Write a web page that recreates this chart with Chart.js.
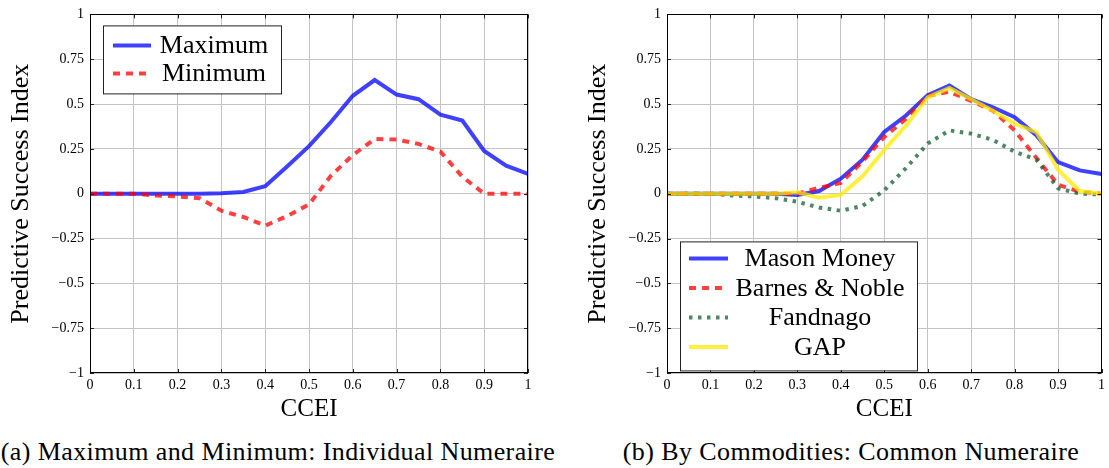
<!DOCTYPE html>
<html>
<head>
<meta charset="utf-8">
<script src="https://cdn.jsdelivr.net/npm/chart.js@4"></script>
<style>
body { margin: 0; background: #fff; width: 1109px; height: 468px; position: relative; overflow: hidden; font-family: "Liberation Serif", serif; }
.caja { position: absolute; top: 0; height: 425px; }
.pie { position: absolute; top: 437px; font-size: 26px; letter-spacing: 0.4px; text-align: center; white-space: nowrap; color: #000; }
</style>
</head>
<body>
<div class="caja" style="left:0;width:545px"><canvas id="ChartA"></canvas></div>
<div class="caja" style="left:577px;width:532px"><canvas id="ChartB"></canvas></div>
<div class="pie" style="left:0;width:556px">(a) Maximum and Minimum: Individual Numeraire</div>
<div class="pie" style="left:600px;width:502px">(b) By Commodities: Common Numeraire</div>
<script>
// valores (CCEI cada 0.05)
const ccei = [0, 0.05, 0.1, 0.15, 0.2, 0.25, 0.3, 0.35, 0.4, 0.45, 0.5, 0.55, 0.6, 0.65, 0.7, 0.75, 0.8, 0.85, 0.9, 0.95, 1]
const maximo = [0, 0, 0, 0, 0, 0, 0.003, 0.01, 0.042, 0.152, 0.265, 0.40, 0.546, 0.634, 0.553, 0.527, 0.441, 0.408, 0.238, 0.156, 0.11]
const minimo = [0, 0, 0, -0.01, -0.015, -0.025, -0.095, -0.13, -0.178, -0.125, -0.06, 0.1, 0.215, 0.305, 0.302, 0.278, 0.235, 0.095, 0, 0, 0]
const masonMoney = [0, 0, 0, 0, 0, 0, -0.007, 0.015, 0.084, 0.19, 0.344, 0.436, 0.55, 0.604, 0.527, 0.482, 0.427, 0.326, 0.176, 0.13, 0.11]
const barnesNoble = [0, 0, 0, 0, 0, 0, 0, 0.033, 0.06, 0.18, 0.317, 0.418, 0.546, 0.568, 0.518, 0.463, 0.353, 0.2, 0.05, 0.01, 0]
const fandnago = [0, 0, 0, -0.01, -0.015, -0.025, -0.045, -0.077, -0.095, -0.068, 0.018, 0.143, 0.28, 0.353, 0.335, 0.3, 0.234, 0.19, 0.03, 0, -0.005]
const gap = [0, 0, 0, 0, 0, 0, 0.008, -0.022, -0.007, 0.097, 0.244, 0.38, 0.537, 0.59, 0.527, 0.463, 0.39, 0.344, 0.134, 0.015, 0]

const ticksY = [-1, -0.75, -0.5, -0.25, 0, 0.25, 0.5, 0.75, 1]

Chart.defaults.font.family = "'Liberation Serif', serif"
Chart.defaults.color = '#000'

const puntos = (valores) => ccei.map((x, i) => ({ x: x, y: valores[i] }))
const formato = (v) => String(Number(v.toFixed(2))).replace('-', '\u2212')

// marco, ticks interiores y leyenda dentro del area
const marcoLeyenda = {
    id: 'marcoLeyenda',
    afterDatasetsDraw(chart, args, opts) {
        const { ctx, chartArea: ca, scales } = chart
        ctx.save()
        ctx.strokeStyle = '#222'
        ctx.lineWidth = 1
        ctx.beginPath()
        scales.x.ticks.forEach(t => {
            const px = Math.round(scales.x.getPixelForValue(t.value)) + 0.5
            ctx.moveTo(px, ca.bottom); ctx.lineTo(px, ca.bottom - 4)
            ctx.moveTo(px, ca.top); ctx.lineTo(px, ca.top + 4)
        })
        scales.y.ticks.forEach(t => {
            const py = Math.round(scales.y.getPixelForValue(t.value)) + 0.5
            ctx.moveTo(ca.left, py); ctx.lineTo(ca.left + 4, py)
            ctx.moveTo(ca.right, py); ctx.lineTo(ca.right - 4, py)
        })
        ctx.stroke()
        ctx.strokeStyle = '#000'
        ctx.strokeRect(Math.round(ca.left) + 0.5, Math.round(ca.top) + 0.5, Math.round(ca.width) - 1, Math.round(ca.height) - 1)

        // leyenda
        const bx = ca.left + opts.x, by = ca.top + opts.y
        ctx.fillStyle = '#fff'
        ctx.fillRect(bx, by, opts.w, opts.h)
        ctx.strokeStyle = '#222'
        ctx.strokeRect(bx + 0.5, by + 0.5, opts.w, opts.h)
        ctx.font = '26px "Liberation Serif", serif'
        ctx.textAlign = 'center'
        ctx.textBaseline = 'middle'
        chart.data.datasets.forEach((ds, i) => {
            const ry = by + opts.primera + i * opts.fila
            ctx.beginPath()
            ctx.strokeStyle = ds.borderColor
            ctx.lineWidth = ds.borderWidth
            ctx.setLineDash(ds.borderDash || [])
            ctx.moveTo(bx + opts.linea[0], ry)
            ctx.lineTo(bx + opts.linea[1], ry)
            ctx.stroke()
            ctx.setLineDash([])
            ctx.fillStyle = '#000'
            ctx.fillText(ds.label, bx + opts.texto, ry + 1)
        })
        ctx.restore()
    }
}

const crearGrafico = (canvas, datasets, leyenda) => {
    return new Chart(canvas, {
        type: 'line',
        data: { datasets: datasets },
        options: {
            responsive: true,
            maintainAspectRatio: false,
            animation: false,
            layout: { padding: { top: 11, right: leyenda.derecha, left: 0, bottom: 0 } },
            elements: { point: { radius: 0 }, line: { tension: 0 } },
            scales: {
                x: {
                    type: 'linear',
                    min: 0, max: 1,
                    grid: { color: '#c4c4c4', tickLength: 0 },
                    border: { display: false },
                    ticks: { stepSize: 0.1, padding: 4, font: { size: 14 }, callback: formato, maxRotation: 0 },
                    title: { display: true, text: 'CCEI', font: { size: 25 }, padding: { top: 0, bottom: 1 } },
                    afterFit: (s) => { s.height = 52 }
                },
                y: {
                    min: -1, max: 1,
                    grid: { color: '#c4c4c4', tickLength: 0 },
                    border: { display: false },
                    afterBuildTicks: (s) => { s.ticks = ticksY.map(v => ({ value: v })) },
                    ticks: { padding: 6, font: { size: 14 }, callback: formato },
                    title: { display: true, text: 'Predictive Success Index', font: { size: 26 }, padding: { top: 6, bottom: 0 } },
                    afterFit: (s) => { s.width = 90 }
                }
            },
            plugins: {
                legend: { display: false },
                tooltip: { enabled: false },
                marcoLeyenda: leyenda
            }
        },
        plugins: [marcoLeyenda]
    })
}

crearGrafico(document.getElementById('ChartA'), [
    { label: 'Maximum', data: puntos(maximo), borderColor: 'rgba(0,0,255,0.75)', borderWidth: 4, order: 1 },
    { label: 'Minimum', data: puntos(minimo), borderColor: 'rgba(255,0,0,0.75)', borderWidth: 4, borderDash: [7, 6], order: 0 }
], { derecha: 17, x: 13, y: 11, w: 178, h: 68, primera: 20, fila: 28, linea: [10, 48], texto: 111 })

crearGrafico(document.getElementById('ChartB'), [
    { label: 'Mason Money', data: puntos(masonMoney), borderColor: 'rgba(0,0,255,0.75)', borderWidth: 4, order: 3 },
    { label: 'Barnes & Noble', data: puntos(barnesNoble), borderColor: 'rgba(255,0,0,0.75)', borderWidth: 4, borderDash: [7, 6], order: 2 },
    { label: 'Fandnago', data: puntos(fandnago), borderColor: 'rgba(20,95,50,0.75)', borderWidth: 4, borderDash: [3.5, 5.5], order: 1 },
    { label: 'GAP', data: puntos(gap), borderColor: 'rgba(255,235,0,0.75)', borderWidth: 4, order: 0 }
], { derecha: 4, x: 13, y: 227, w: 237, h: 129, primera: 17, fila: 29.5, linea: [9, 48], texto: 140 })
</script>
</body>
</html>
